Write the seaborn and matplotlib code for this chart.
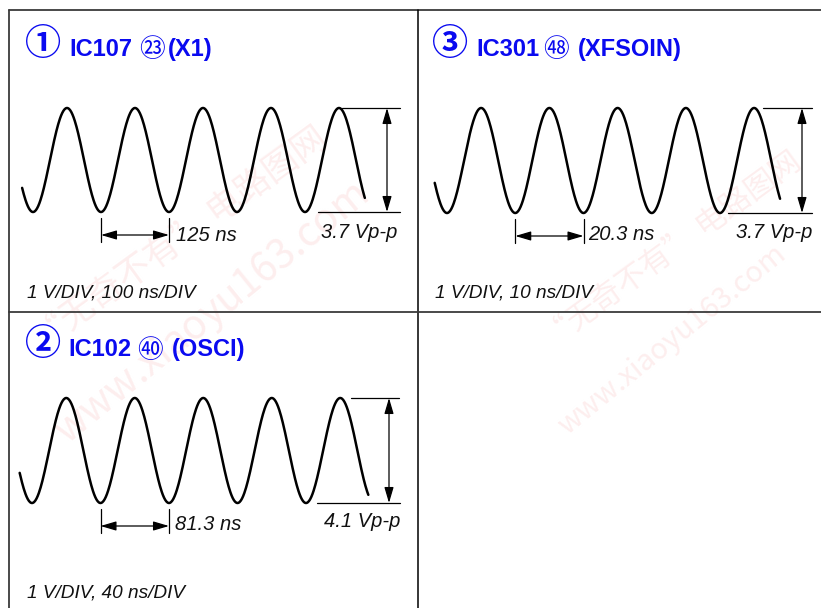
import numpy as np
import pandas as pd
import matplotlib
matplotlib.use("Agg")
import matplotlib.pyplot as plt
import seaborn as sns

# ---------------- data ----------------
circled_numbers = ["①", "③", "②"]
ic_names = ["IC107", "IC301", "IC102"]
pin_numbers = ["㉓", "㊽", "㊵"]
signal_names = ["(X1)", "(XFSOIN)", "(OSCI)"]
period_ns = [125.0, 20.3, 81.3]
period_labels = ["125 ns", "20.3 ns", "81.3 ns"]
vpp_volts = [3.7, 3.7, 4.1]
vpp_labels = ["3.7 Vp-p", "3.7 Vp-p", "4.1 Vp-p"]
scale_labels = ["1 V/DIV, 100 ns/DIV", "1 V/DIV, 10 ns/DIV", "1 V/DIV, 40 ns/DIV"]
trace_start_cycles = [-0.16, -0.18, -0.18]
trace_end_cycles = [4.88, 4.88, 4.91]
watermark_cn = "“无奇不有” 电路图网"
watermark_url = "www.xiaoyu163.com"

# ---------------- layout (pixels) ----------------
W, H = 821, 608
layout = [
    dict(box=(9, 10, 418, 312), trough_x=33, period_px=68.0, trough_y=212, peak_y=108,
         top_line=(342, 400), bot_line=(318, 400), arrow_x=387,
         circ=(43, 45), ic_x=69, pin=(152, 50), sig_x=168, title_base=56,
         per_lab_x=176, per_base=241, vpp_right=397, vpp_base=238,
         scale_x=27, scale_base=297),
    dict(box=(418, 10, 821, 312), trough_x=447, period_px=68.25, trough_y=213, peak_y=108,
         top_line=(763, 812), bot_line=(728, 812), arrow_x=802,
         circ=(450, 45), ic_x=476, pin=(556, 50), sig_x=578, title_base=56,
         per_lab_x=588, per_base=240, vpp_right=812, vpp_base=238,
         scale_x=435, scale_base=297),
    dict(box=(9, 312, 418, 608), trough_x=32, period_px=68.5, trough_y=503, peak_y=398,
         top_line=(351, 399), bot_line=(317, 400), arrow_x=389,
         circ=(43, 345), ic_x=68, pin=(150, 351), sig_x=172, title_base=356,
         per_lab_x=175, per_base=530, vpp_right=400, vpp_base=527,
         scale_x=27, scale_base=597),
]

sns.set_theme(style="white")
plt.rcParams["font.family"] = ["Liberation Sans", "DejaVu Sans"]
cjk = ["Noto Sans CJK SC", "DejaVu Sans"]
BLUE = "#0a0af0"

fig = plt.figure(figsize=(W / 100, H / 100), dpi=100)
fig.patch.set_facecolor("white")

bg = fig.add_axes([0, 0, 1, 1])
bg.set_xlim(0, W)
bg.set_ylim(H, 0)
bg.axis("off")

# very faint watermark
wm_c = "#fdeeee"
for (cx1, cy1, cx2, cy2, fs1, fs2) in [(180, 240, 212, 312, 25, 29),
                                       (672, 250, 672, 340, 22, 21)]:
    bg.text(cx1, cy1, watermark_cn, family=cjk, fontsize=fs1, color=wm_c,
            rotation=36, ha="center", va="center", rotation_mode="anchor", zorder=0)
    bg.text(cx2, cy2, watermark_url, family=cjk, fontsize=fs2, color=wm_c,
            rotation=39, ha="center", va="center", rotation_mode="anchor", zorder=0)

# panel frame
frame_c = "#3a3a3a"
bg.plot([9, W], [10, 10], color=frame_c, lw=1.3, zorder=1)
bg.plot([9, 9], [10, H], color=frame_c, lw=1.3, zorder=1)
bg.plot([418, 418], [10, H], color="black", lw=1.1, zorder=1)
bg.plot([9, W], [312, 312], color=frame_c, lw=1.3, zorder=1)

for i, L in enumerate(layout):
    x0, y0, x1, y1 = L["box"]
    T = period_ns[i]
    Vpp = vpp_volts[i]
    kt = T / L["period_px"]
    kv = Vpp / (L["trough_y"] - L["peak_y"])

    def to_t(px, L=L, kt=kt):
        return (px - L["trough_x"]) * kt

    def to_v(py, L=L, kv=kv):
        return (L["trough_y"] - py) * kv

    ax = fig.add_axes([x0 / W, 1 - y1 / H, (x1 - x0) / W, (y1 - y0) / H])
    ax.set_facecolor("none")
    ax.set_xlim(to_t(x0), to_t(x1))
    ax.set_ylim(to_v(y1), to_v(y0))
    ax.axis("off")

    t = np.linspace(trace_start_cycles[i] * T, trace_end_cycles[i] * T, 600)
    v = Vpp / 2 * (1 - np.cos(2 * np.pi * t / T))
    df = pd.DataFrame({"t": t, "v": v})
    sns.lineplot(data=df, x="t", y="v", ax=ax, color="black", lw=1.8,
                 sort=False, estimator=None)

    # Vp-p marker
    ax.plot([to_t(L["top_line"][0]), to_t(L["top_line"][1])], [Vpp, Vpp],
            color="black", lw=0.9)
    ax.plot([to_t(L["bot_line"][0]), to_t(L["bot_line"][1])], [0, 0],
            color="black", lw=0.9)
    ta = to_t(L["arrow_x"])
    ax.annotate("", xy=(ta, Vpp), xytext=(ta, 0),
                arrowprops=dict(arrowstyle="<|-|>,head_length=0.95,head_width=0.28",
                                color="black", lw=0.9, shrinkA=0, shrinkB=0,
                                mutation_scale=10))

    # period marker
    yt0, yt1 = to_v(L["trough_y"] + 6), to_v(L["trough_y"] + 30)
    ya = to_v(L["trough_y"] + 23)
    for tt in (T, 2 * T):
        ax.plot([tt, tt], [yt0, yt1], color="black", lw=0.9)
    ax.annotate("", xy=(2 * T, ya), xytext=(T, ya),
                arrowprops=dict(arrowstyle="<|-|>,head_length=0.95,head_width=0.28",
                                color="black", lw=0.9, shrinkA=0, shrinkB=0,
                                mutation_scale=10))

    # texts (pixel coordinates)
    bg.text(L["per_lab_x"], L["per_base"], period_labels[i], fontsize=14.5,
            style="italic", ha="left", va="baseline", color="#111111")
    bg.text(L["vpp_right"], L["vpp_base"], vpp_labels[i], fontsize=14.5,
            style="italic", ha="right", va="baseline", color="#111111")
    bg.text(L["scale_x"], L["scale_base"], scale_labels[i], fontsize=13.7,
            style="italic", ha="left", va="baseline", color="#111111")

    # title
    bg.text(L["circ"][0], L["circ"][1], circled_numbers[i], family=cjk, fontsize=26,
            fontweight="bold", color=BLUE, ha="center", va="center")
    bg.text(L["ic_x"], L["title_base"], ic_names[i], fontsize=17, fontweight="bold",
            color=BLUE, ha="left", va="baseline")
    bg.text(L["pin"][0], L["pin"][1], pin_numbers[i], family=cjk, fontsize=18.5,
            color=BLUE, ha="center", va="center")
    bg.text(L["sig_x"], L["title_base"], signal_names[i], fontsize=17, fontweight="bold",
            color=BLUE, ha="left", va="baseline")

fig.savefig("out.png", dpi=100, facecolor="white")
